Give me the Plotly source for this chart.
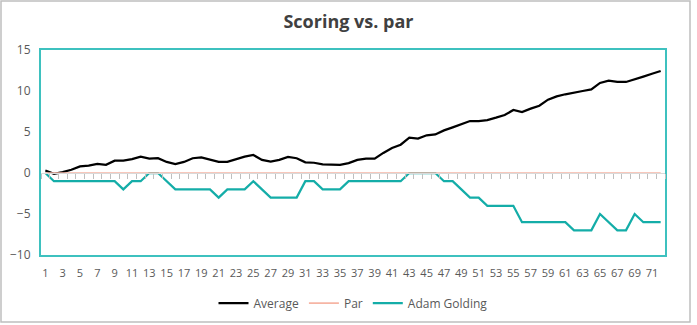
import plotly.graph_objects as go

# Round-by-round scoring relative to par
rounds = list(range(1, 73))

average = [
    0.3, -0.1, 0.1, 0.4, 0.8, 0.9, 1.1, 1.0, 1.5, 1.5,
    1.7, 2.0, 1.75, 1.8, 1.35, 1.1, 1.35, 1.8, 1.9, 1.6,
    1.35, 1.35, 1.7, 2.0, 2.2, 1.6, 1.4, 1.6, 1.95, 1.8,
    1.3, 1.25, 1.05, 1.0, 1.0, 1.2, 1.6, 1.75, 1.75, 2.45,
    3.05, 3.45, 4.3, 4.2, 4.6, 4.7, 5.2, 5.57, 5.93, 6.34,
    6.34, 6.46, 6.75, 7.07, 7.68, 7.44, 7.85, 8.2, 8.94, 9.35,
    9.6, 9.84, 10.0, 10.2, 10.98, 11.26, 11.1, 11.1, 11.4, 11.75,
    12.1, 12.44,
]

par = [0] * 72

adam_golding = [
    0, -1, -1, -1, -1, -1, -1, -1, -1, -2,
    -1, -1, 0, 0, -1, -2, -2, -2, -2, -2,
    -3, -2, -2, -2, -1, -2, -3, -3, -3, -3,
    -1, -1, -2, -2, -2, -1, -1, -1, -1, -1,
    -1, -1, 0, 0, 0, 0, -1, -1, -2, -3,
    -3, -4, -4, -4, -4, -6, -6, -6, -6, -6,
    -6, -7, -7, -7, -5, -6, -7, -7, -5, -6,
    -6, -6,
]

x_tick_labels = [str(r) for r in rounds if r % 2 == 1]
y_ticks = [-10, -5, 0, 5, 10, 15]

W, H = 697, 325
ML, MR, MT, MB = 41, 32, 50, 70
plot_w, plot_h = W - ML - MR, H - MT - MB

FONT = "Open Sans"
TEXT = "#595959"
FRAME = "#3EC1BF"

fig = go.Figure()

fig.add_trace(go.Scatter(
    x=rounds, y=average, name="Average", mode="lines",
    line=dict(color="#000000", width=2.25),
))
fig.add_trace(go.Scatter(
    x=rounds, y=par, name="Par", mode="lines", xaxis="x2",
    line=dict(color="#F6B5A4", width=1.75),
))
fig.add_trace(go.Scatter(
    x=rounds, y=adam_golding, name="Adam Golding", mode="lines",
    line=dict(color="#14ADA8", width=2.25),
))


def px_to_paper_x(px):
    return (px - ML) / plot_w


def px_to_paper_y(py):
    return (H - MB - py) / plot_h


# outer chart border
fig.add_shape(
    type="rect", xref="paper", yref="paper",
    x0=px_to_paper_x(1), x1=px_to_paper_x(690),
    y0=px_to_paper_y(322), y1=px_to_paper_y(1),
    line=dict(color="#BFBFBF", width=1.5), fillcolor="rgba(0,0,0,0)",
    layer="below",
)

y_min, y_max = -10, 15
zero_pos = (0 - y_min) / (y_max - y_min)

fig.update_layout(
    width=W, height=H,
    margin=dict(l=ML, r=MR, t=MT, b=MB, autoexpand=False),
    paper_bgcolor="white", plot_bgcolor="white",
    font=dict(family=FONT, color=TEXT, size=12),
    title=dict(
        text="<b>Scoring vs. par</b>", x=0.5, xref="container",
        y=1 - 22 / H, yref="container", yanchor="middle",
        font=dict(family=FONT, size=18, color="#404040"),
    ),
    showlegend=True,
    legend=dict(
        orientation="h", x=0.5, xanchor="center",
        y=px_to_paper_y(303), yanchor="middle",
        font=dict(family=FONT, size=12, color=TEXT),
        itemwidth=30, tracegroupgap=0,
    ),
    xaxis=dict(
        range=[0.5, 72.5], tickmode="array",
        tickvals=[r for r in rounds if r % 2 == 1], ticktext=x_tick_labels,
        showgrid=False, zeroline=False, ticks="",
        showline=True, linecolor=FRAME, linewidth=2, mirror=True,
        tickfont=dict(size=11, color=TEXT), ticklabelstandoff=7,
    ),
    xaxis2=dict(
        range=[0.5, 72.5], overlaying="x", anchor="free", position=zero_pos,
        side="bottom", showticklabels=False, showgrid=False, zeroline=False,
        tick0=0.5, dtick=1, ticks="outside", ticklen=5, tickwidth=1,
        tickcolor="#BFBFBF", showline=True, linecolor="#D9D9D9", linewidth=1,
    ),
    yaxis=dict(
        range=[y_min, y_max], tickvals=y_ticks,
        showgrid=False, zeroline=False, ticks="",
        showline=True, linecolor=FRAME, linewidth=2, mirror=True,
        tickfont=dict(size=12, color=TEXT), ticklabelstandoff=6,
    ),
)

fig.write_html("out.html")
